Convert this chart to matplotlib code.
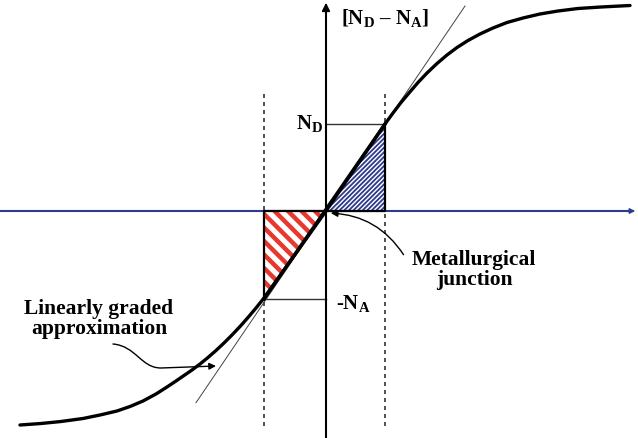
import numpy as np
import matplotlib
matplotlib.use('Agg')
from matplotlib import pyplot as plt
from matplotlib.patches import Polygon, FancyArrowPatch
from matplotlib.path import Path

plt.rc('font', family='Liberation Serif', weight='bold', size=15.5)
plt.rc('mathtext', fontset='custom', rm='Liberation Serif:bold',
       it='Liberation Serif:bold', bf='Liberation Serif:bold')

# doping profile, position measured from the metallurgical junction
x_curve = [-306, -285, -265, -243, -226, -209, -196, -183, -170, -159, -150,
           -142, -134, -126, -118, -110, -102, -94, -86, -78, -70, -62,
           0,
           59, 67, 75, 83, 92, 101, 111, 121, 131, 142, 154, 167, 181, 197,
           214, 232, 252, 275, 304]
n_curve = [-214, -212.5, -210.5, -207.5, -204, -200, -195.5, -190, -183, -176,
           -170, -164.5, -159, -153, -146.5, -139.5, -132, -124, -115.5,
           -106.5, -97, -87,
           0,
           87, 98, 108.5, 118, 128.5, 138, 147.5, 156, 163.5, 170.5, 177, 183,
           188.5, 193, 197, 200, 202.5, 204, 205.5]

x_p = -62      # edge of depletion region, p side
x_n = 59       # edge of depletion region, n side
N_D = 87
N_A = 88
tangent_x = [-130, 139]

blue = '#2e3a8c'
red = '#e8372c'

fig = plt.figure(figsize=(6.38, 4.39), dpi=100)
ax = fig.add_axes([0, 0, 1, 1])
ax.set_xlim(-326, 312)
ax.set_ylim(-227, 212)
ax.axis('off')

# position axis (blue) and doping axis
ax.plot([-326, 306], [0, 0], color=blue, lw=1.5, zorder=2)
ax.annotate('', xy=(312, 0), xytext=(300, 0),
            arrowprops=dict(arrowstyle='-|>', color=blue, lw=1.0,
                            mutation_scale=8))
ax.plot([0, 0], [-227, 200], color='black', lw=1.5, zorder=3)
ax.annotate('', xy=(0, 211), xytext=(0, 196),
            arrowprops=dict(arrowstyle='-|>', color='black', lw=1.2,
                            mutation_scale=12))

# depletion edges
for xe in (x_p, x_n):
    ax.plot([xe, xe], [117, -216], color='#333333', lw=1.2,
            dashes=(2.4, 2.4), zorder=2)

# N_D and -N_A levels
ax.plot([0, x_n], [N_D, N_D], color='#333333', lw=1.0, zorder=2)
ax.plot([x_p, 0], [-N_A, -N_A], color='#333333', lw=1.0, zorder=2)

# hatched triangles
grad = N_D / x_n
tri_n = Polygon([(0, 0), (x_n, N_D), (x_n, 0)], closed=True,
                facecolor='white', edgecolor='none', zorder=3)
ax.add_patch(tri_n)
for c in np.arange(-x_n, N_D, 4.6):
    ln, = ax.plot([-10, x_n + 10], [-10 + c, x_n + 10 + c], color=blue,
                  lw=1.3, zorder=4)
    ln.set_clip_path(tri_n)
tri_p = Polygon([(x_p, 0), (0, 0), (x_p, -N_A)], closed=True,
                facecolor='white', edgecolor='none', zorder=3)
ax.add_patch(tri_p)
for c in np.arange(-N_A + x_p + 4, 20, 13.5):
    ln, = ax.plot([x_p - 10, 10], [-(x_p - 10) + c, -10 + c], color=red,
                  lw=3.2, zorder=4)
    ln.set_clip_path(tri_p)
ax.plot([x_n, x_n, 0], [N_D, 0, 0], color='black', lw=1.6, zorder=5)
ax.plot([x_p, x_p, 0], [-N_A, 0, 0], color='black', lw=1.6, zorder=5)

# linear approximation and real profile
ax.plot(tangent_x, [grad * t for t in tangent_x], color='#444444', lw=0.7,
        zorder=5)
ax.plot([x_p, x_n], [-N_A, N_D], color='black', lw=2.4, zorder=6)
ax.plot(x_curve, n_curve, color='black', lw=2.4, zorder=6,
        solid_joinstyle='round', solid_capstyle='round')

# labels
ax.text(-3, 89, r'$\mathrm{N_D}$', ha='right', va='center', fontsize=15)
ax.text(10, -91, r'-$\mathrm{N_A}$', ha='left', va='center', fontsize=15)
ax.text(15, 194, r'[$\mathrm{N_D}$ – $\mathrm{N_A}$]', ha='left',
        va='center', fontsize=15)
ax.text(148, -58, 'Metallurgical\njunction', ha='center', va='center',
        multialignment='center', linespacing=1.05)
ax.text(-227, -107, 'Linearly graded\napproximation', ha='center',
        va='center', multialignment='center', linespacing=1.05)

ax.add_patch(FancyArrowPatch((79, -46), (2, -2),
                             connectionstyle='arc3,rad=0.27',
                             arrowstyle='-|>', mutation_scale=10,
                             color='black', lw=1.0, zorder=7))
arrow_path = Path([(-213, -133), (-190, -135), (-185, -157), (-165, -157),
                   (-110, -155)],
                  [Path.MOVETO, Path.CURVE4, Path.CURVE4, Path.CURVE4,
                   Path.LINETO])
ax.add_patch(FancyArrowPatch(path=arrow_path, arrowstyle='-|>',
                             mutation_scale=10, color='black', lw=1.0,
                             zorder=7))

fig.savefig('out.png', dpi=100)
